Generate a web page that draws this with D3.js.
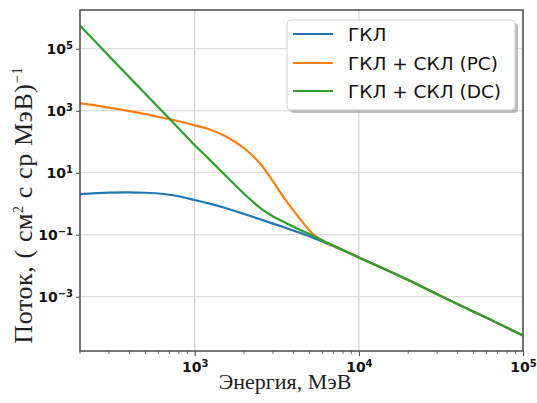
<!DOCTYPE html>
<html>
<head>
<meta charset="utf-8">
<script src="https://cdn.jsdelivr.net/npm/d3@7"></script>
<style>
  html, body { margin: 0; padding: 0; background: #fff; }
  svg { display: block; }
</style>
</head>
<body>
<div id="chart"></div>
<script>
// Energy grid (MeV) and fluxes
const energies = [200, 250, 300, 400, 500, 600, 700, 800, 1000, 1200, 1500, 2000, 2500, 3000, 3500,
    4000, 4500, 5000, 5500, 6000, 6500, 7000, 8000, 10000, 15000, 20000, 30000, 50000, 70000, 100000];

// ГКЛ
const fluxGCR = [2.04, 2.19, 2.29, 2.34, 2.26, 2.14, 1.95, 1.74, 1.32, 1.05, 0.759, 0.468, 0.316, 0.229, 0.174,
    0.135, 0.110, 0.0891, 0.0724, 0.0603, 0.0501, 0.0427, 0.0316, 0.0186, 7.08e-3, 3.47e-3, 1.20e-3, 3.31e-4, 1.41e-4, 5.62e-5];

// ГКЛ + СКЛ (PC)
const fluxPC = [1720, 1480, 1260, 977, 776, 631, 537, 457, 339, 263, 162, 61.7, 20.0, 5.25, 1.55,
    0.603, 0.269, 0.138, 0.0871, 0.0646, 0.0525, 0.0437, 0.0320, 0.0186, 7.08e-3, 3.47e-3, 1.20e-3, 3.31e-4, 1.41e-4, 5.62e-5];

// ГКЛ + СКЛ (DC)
const fluxDC = [5.62e5, 1.62e5, 5.89e4, 1.20e4, 3550, 1290, 562, 269, 77.6, 30.2, 9.33, 2.09, 0.741, 0.389, 0.257,
    0.182, 0.135, 0.105, 0.0813, 0.0661, 0.0537, 0.0447, 0.0324, 0.0186, 7.08e-3, 3.47e-3, 1.20e-3, 3.31e-4, 1.41e-4, 5.62e-5];

const seriesNames = ["ГКЛ", "ГКЛ + СКЛ (PC)", "ГКЛ + СКЛ (DC)"];
const seriesColors = ["#1f77b4", "#ff7f0e", "#2ca02c"];

const xTicks = [1e3, 1e4, 1e5];
const xTickExp = ["3", "4", "5"];
const yTicks = [1e-3, 1e-1, 1e1, 1e3, 1e5];
const yTickExp = ["−3", "−1", "1", "3", "5"];

const xLabel = "Энергия, МэВ";

// Layout
const W = 537, H = 403;
const plot = {left: 80, right: 523, top: 10, bottom: 351};

const svg = d3.select("#chart").append("svg")
    .attr("width", W)
    .attr("height", H);

const x = d3.scaleLog()
    .domain([200, 1e5])
    .range([plot.left, plot.right]);

const y = d3.scaleLog()
    .domain([Math.pow(10, -4.75), Math.pow(10, 6.25)])
    .range([plot.bottom, plot.top]);

// Grid (major only)
const grid = svg.append("g").attr("class", "grid")
    .attr("stroke", "#d3d3d3")
    .attr("stroke-width", 1.2);

grid.selectAll(".gx").data(xTicks).enter().append("line")
    .attr("x1", d => x(d)).attr("x2", d => x(d))
    .attr("y1", plot.top).attr("y2", plot.bottom);

grid.selectAll(".gy").data(yTicks).enter().append("line")
    .attr("x1", plot.left).attr("x2", plot.right)
    .attr("y1", d => y(d)).attr("y2", d => y(d));

// Curves
svg.append("defs").append("clipPath").attr("id", "plot-clip")
    .append("rect")
    .attr("x", plot.left).attr("y", plot.top)
    .attr("width", plot.right - plot.left).attr("height", plot.bottom - plot.top);

const line = d3.line()
    .x(d => x(d[0]))
    .y(d => y(d[1]))
    .curve(d3.curveCatmullRom.alpha(0.5));

const allSeries = [fluxGCR, fluxPC, fluxDC];
const curves = svg.append("g").attr("clip-path", "url(#plot-clip)");
allSeries.forEach((vals, i) => {
    curves.append("path")
        .datum(energies.map((e, k) => [e, vals[k]]))
        .attr("fill", "none")
        .attr("stroke", seriesColors[i])
        .attr("stroke-width", 2.2)
        .attr("stroke-linejoin", "round")
        .attr("d", line);
});

// Axes
const xAxis = d3.axisBottom(x)
    .tickValues(xTicks)
    .tickSize(5)
    .tickSizeOuter(0)
    .tickPadding(6)
    .tickFormat("");

const gx = svg.append("g")
    .attr("transform", `translate(0,${plot.bottom})`)
    .call(xAxis);

// minor ticks on x
const xMinor = [];
[100, 1000, 10000].forEach(dec => {
    for (let m = 2; m <= 9; m++) {
        const v = dec * m;
        if (v >= 200 && v <= 1e5) xMinor.push(v);
    }
});
gx.selectAll(".minor").data(xMinor).enter().append("line")
    .attr("class", "minor")
    .attr("x1", d => x(d)).attr("x2", d => x(d))
    .attr("y1", 0).attr("y2", 3)
    .attr("stroke", "#444")
    .attr("stroke-width", 0.8);

const yAxis = d3.axisLeft(y)
    .tickValues(yTicks)
    .tickSize(4)
    .tickSizeOuter(0)
    .tickPadding(3)
    .tickFormat("");

const gy = svg.append("g")
    .attr("transform", `translate(${plot.left},0)`)
    .call(yAxis);

[gx, gy].forEach(g => {
    g.select(".domain").remove();
    g.selectAll(".tick line").attr("stroke", "#444").attr("stroke-width", 1);
});

function powerLabel(sel, exps, ticks) {
    sel.selectAll(".tick text").each(function(d) {
        const t = d3.select(this);
        const e = exps[ticks.indexOf(d)];
        t.text(null)
            .attr("font-family", "'DejaVu Sans', sans-serif")
            .attr("font-weight", "bold")
            .attr("font-size", 14)
            .attr("fill", "#111");
        t.append("tspan").text("10");
        t.append("tspan")
            .attr("dy", "-0.45em")
            .attr("font-size", 10)
            .text(e);
    });
}
powerLabel(gx, xTickExp, xTicks);
powerLabel(gy, yTickExp, yTicks);

// Frame
svg.append("rect")
    .attr("x", plot.left).attr("y", plot.top)
    .attr("width", plot.right - plot.left)
    .attr("height", plot.bottom - plot.top)
    .attr("fill", "none")
    .attr("stroke", "#555")
    .attr("stroke-width", 1.6);

// Axis titles
svg.append("text")
    .attr("x", 285)
    .attr("y", 389)
    .attr("text-anchor", "middle")
    .attr("font-family", "'Liberation Serif', 'Times New Roman', serif")
    .attr("font-size", 22)
    .attr("fill", "#222")
    .text(xLabel);

const yl = svg.append("text")
    .attr("transform", "translate(32,205) rotate(-90)")
    .attr("text-anchor", "middle")
    .attr("font-family", "'Liberation Serif', 'Times New Roman', serif")
    .attr("font-size", 26)
    .attr("letter-spacing", 0.6)
    .attr("fill", "#222");
yl.append("tspan").text("Поток, ( см");
yl.append("tspan").attr("dy", -9).attr("font-size", 14).text("2");
yl.append("tspan").attr("dy", 9).text(" с ср МэВ)");
yl.append("tspan").attr("dy", -10).attr("font-size", 15).text("−1");

// Legend
const legend = {x: 287, y: 20, w: 228, h: 90, rows: [34, 63, 91]};
svg.append("rect")
    .attr("x", legend.x + 3).attr("y", legend.y + 3)
    .attr("width", legend.w).attr("height", legend.h)
    .attr("rx", 4)
    .attr("fill", "#7f7f7f")
    .attr("opacity", 0.5);
svg.append("rect")
    .attr("x", legend.x).attr("y", legend.y)
    .attr("width", legend.w).attr("height", legend.h)
    .attr("rx", 4)
    .attr("fill", "#fff")
    .attr("stroke", "#d0d0d0")
    .attr("stroke-width", 1);

seriesNames.forEach((name, i) => {
    const yy = legend.rows[i];
    svg.append("line")
        .attr("x1", 293).attr("x2", 333)
        .attr("y1", yy).attr("y2", yy)
        .attr("stroke", seriesColors[i])
        .attr("stroke-width", 2.2);
    svg.append("text")
        .attr("x", 348)
        .attr("y", yy)
        .attr("dy", "0.36em")
        .attr("font-family", "'DejaVu Sans', sans-serif")
        .attr("font-size", 18.5)
        .attr("fill", "#111")
        .text(name);
});
</script>
</body>
</html>
